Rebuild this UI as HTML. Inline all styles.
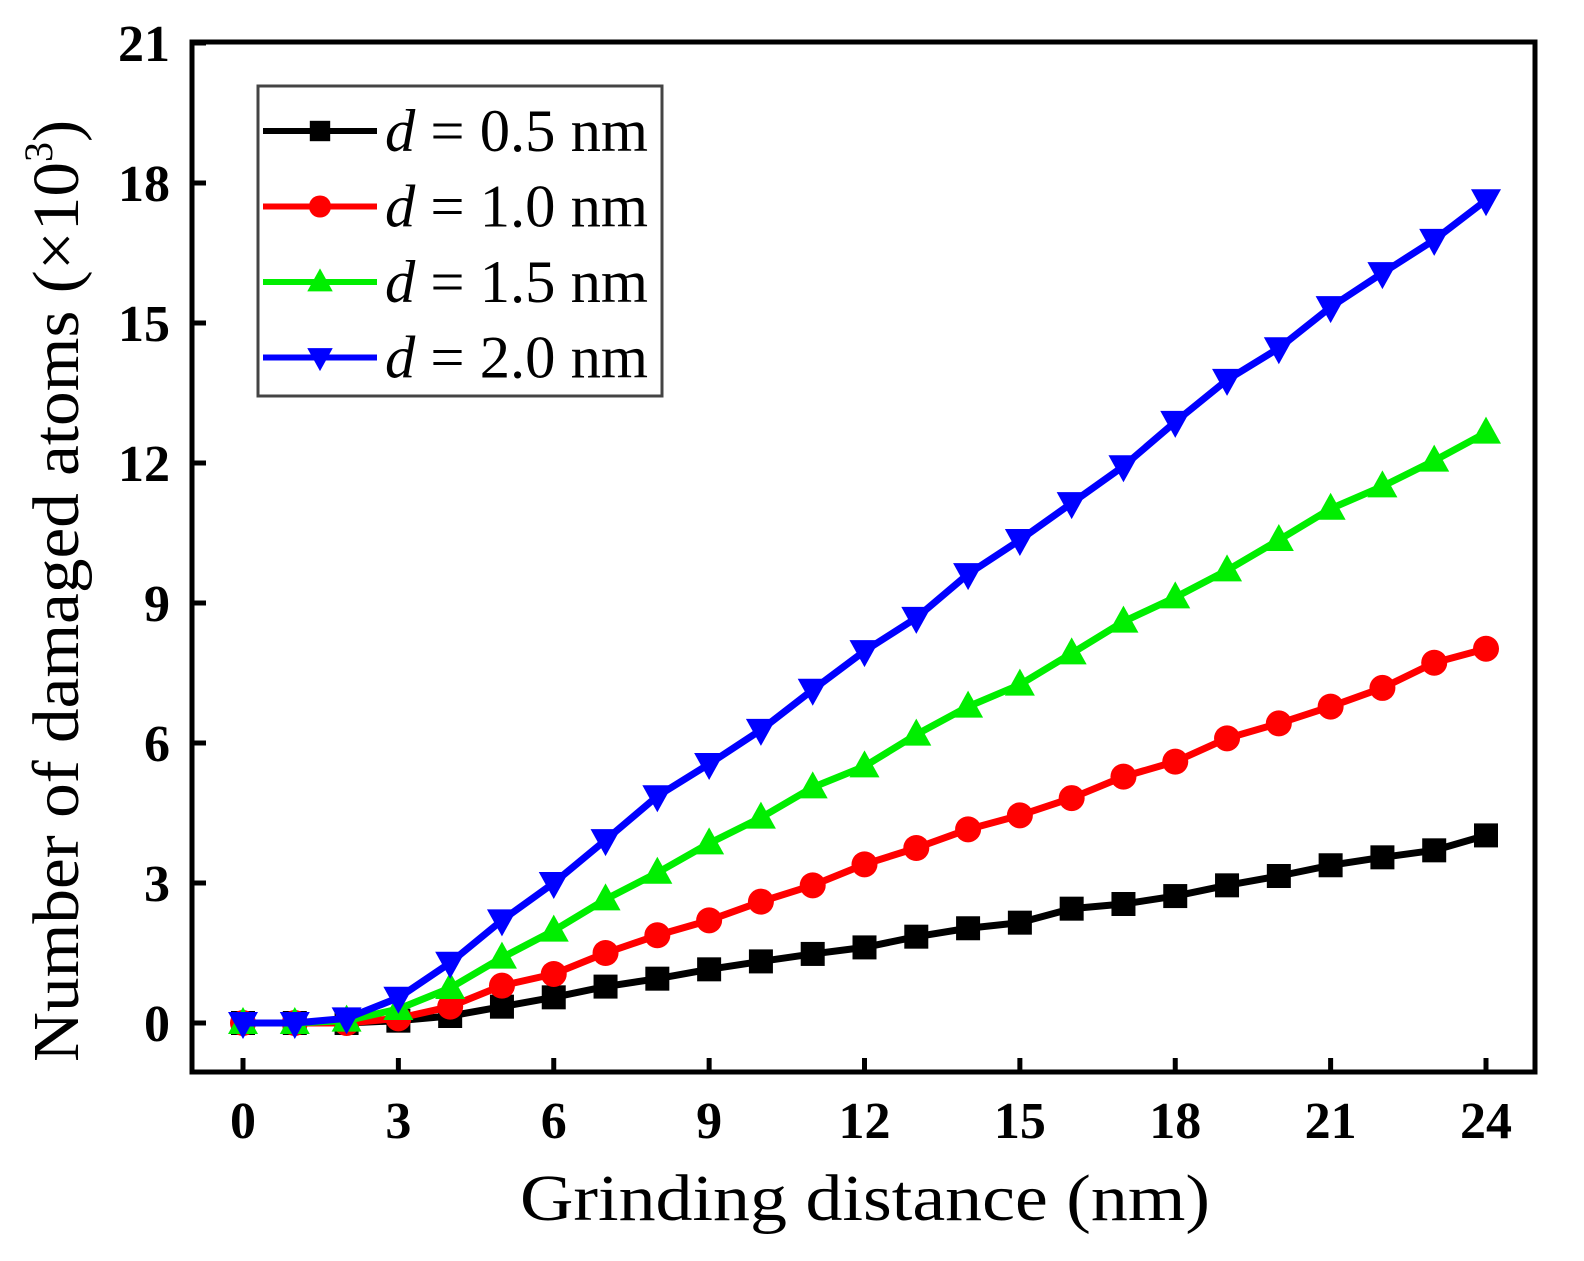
<!DOCTYPE html>
<html><head><meta charset="utf-8"><style>
html,body{margin:0;padding:0;background:#fff;}
svg{display:block;font-family:"Liberation Serif",serif;}
</style></head><body>
<svg id="chart" width="1584" height="1261" viewBox="0 0 1584 1261">
<g id="plot"></g>
</svg>
<script>
const xValues=[0,1,2,3,4,5,6,7,8,9,10,11,12,13,14,15,16,17,18,19,20,21,22,23,24];
const seriesD05=[0,0,0,0.05,0.15,0.35,0.55,0.78,0.95,1.15,1.32,1.48,1.62,1.85,2.03,2.15,2.45,2.55,2.72,2.95,3.15,3.38,3.55,3.7,4.02];
const seriesD10=[0,0,0,0.1,0.35,0.8,1.05,1.5,1.88,2.2,2.6,2.95,3.4,3.75,4.15,4.45,4.82,5.28,5.6,6.1,6.42,6.78,7.18,7.72,8.02];
const seriesD15=[0,0,0.05,0.3,0.75,1.4,1.98,2.65,3.22,3.85,4.4,5.05,5.5,6.18,6.78,7.25,7.92,8.6,9.12,9.7,10.35,11.02,11.5,12.05,12.65];
const seriesD20=[0,0,0.1,0.54,1.29,2.2,3.0,3.92,4.86,5.55,6.28,7.14,7.97,8.68,9.62,10.35,11.14,11.93,12.88,13.78,14.46,15.34,16.07,16.78,17.63];
const xTicks=[0,3,6,9,12,15,18,21,24];
const yTicks=[0,3,6,9,12,15,18,21];
const legendLabels=["0.5 nm","1.0 nm","1.5 nm","2.0 nm"];

const NS="http://www.w3.org/2000/svg";
const svg=document.getElementById('chart');
const X0=192,X1=1535,Y0=42,Y1=1072;
const xs=v=>243+v*(1486-243)/24;
const ys=v=>1023-v*(1023-43)/21;
function mk(tag,attrs,parent){const e=document.createElementNS(NS,tag);for(const k in attrs)e.setAttribute(k,attrs[k]);(parent||svg).appendChild(e);return e;}

const frame=mk('rect',{x:X0,y:Y0,width:X1-X0,height:Y1-Y0,fill:'none',stroke:'#000','stroke-width':5});



xTicks.forEach(t=>{
  const l=mk('line',{x1:xs(t),x2:xs(t),y1:Y1,y2:Y1-14,stroke:'#000','stroke-width':5});
  
  
  const tx=mk('text',{x:xs(t),y:1138,'text-anchor':'middle','font-size':52,'font-weight':'bold'});
  tx.textContent=t;
  
  
});
yTicks.forEach(t=>{
  const l=mk('line',{x1:X0,x2:X0+14,y1:ys(t),y2:ys(t),stroke:'#000','stroke-width':5});
  
  
  const tx=mk('text',{x:170,y:ys(t)+18,'text-anchor':'end','font-size':52,'font-weight':'bold'});
  tx.textContent=t;
  
  
});

const xt=mk('text',{x:520,y:1220,'font-size':66,textLength:690,lengthAdjust:'spacingAndGlyphs'});
xt.textContent='Grinding distance (nm)';


const yt=mk('text',{x:0,y:0,'font-size':66,transform:'translate(78,1062) rotate(-90)'});
yt.innerHTML='<tspan textLength="900" lengthAdjust="spacingAndGlyphs">Number of damaged atoms (×10</tspan><tspan font-size="40" dy="-26">3</tspan><tspan dy="26">)</tspan>';



const colors=['#000000','#ff0000','#00ee00','#0000ff'];
const all=[seriesD05,seriesD10,seriesD15,seriesD20];
const names=['series-d-0-5','series-d-1-0','series-d-1-5','series-d-2-0'];
function marker(i,cx,cy,parent,s){
  s=s||1;let m;
  if(i===0) m=mk('rect',{x:cx-12*s,y:cy-12*s,width:24*s,height:24*s,fill:colors[i]},parent);
  else if(i===1) m=mk('circle',{cx:cx,cy:cy,r:13*s,fill:colors[i]},parent);
  else if(i===2) m=mk('polygon',{points:`${cx},${cy-16*s} ${cx-15*s},${cy+11*s} ${cx+15*s},${cy+11*s}`,fill:colors[i]},parent);
  else m=mk('polygon',{points:`${cx},${cy+16*s} ${cx-15*s},${cy-11*s} ${cx+15*s},${cy-11*s}`,fill:colors[i]},parent);
  return m;
}
all.forEach((s,i)=>{
  const g=mk('g',{});
  
  
  const p=mk('polyline',{points:s.map((v,j)=>xs(xValues[j])+','+ys(v)).join(' '),fill:'none',stroke:colors[i],'stroke-width':7,'stroke-linejoin':'round'},g);
  
  
  s.forEach((v,j)=>{
    const m=marker(i,xs(xValues[j]),ys(v),g);
    
    
  });
});

const lg=mk('g',{});


mk('rect',{x:258,y:86,width:404,height:310,fill:'#fff',stroke:'#444','stroke-width':3},lg);
legendLabels.forEach((lab,i)=>{
  const cy=131+i*75.5;
  const e=mk('g',{},lg);
  
  
  mk('line',{x1:263,x2:377,y1:cy,y2:cy,stroke:colors[i],'stroke-width':6},e);
  marker(i,320,cy,e,0.85);
  const t=mk('text',{x:385,y:cy+20,'font-size':60,textLength:263,lengthAdjust:'spacingAndGlyphs'},e);
  t.innerHTML='<tspan font-style="italic">d</tspan> = '+lab;
});
</script>
</body></html>
